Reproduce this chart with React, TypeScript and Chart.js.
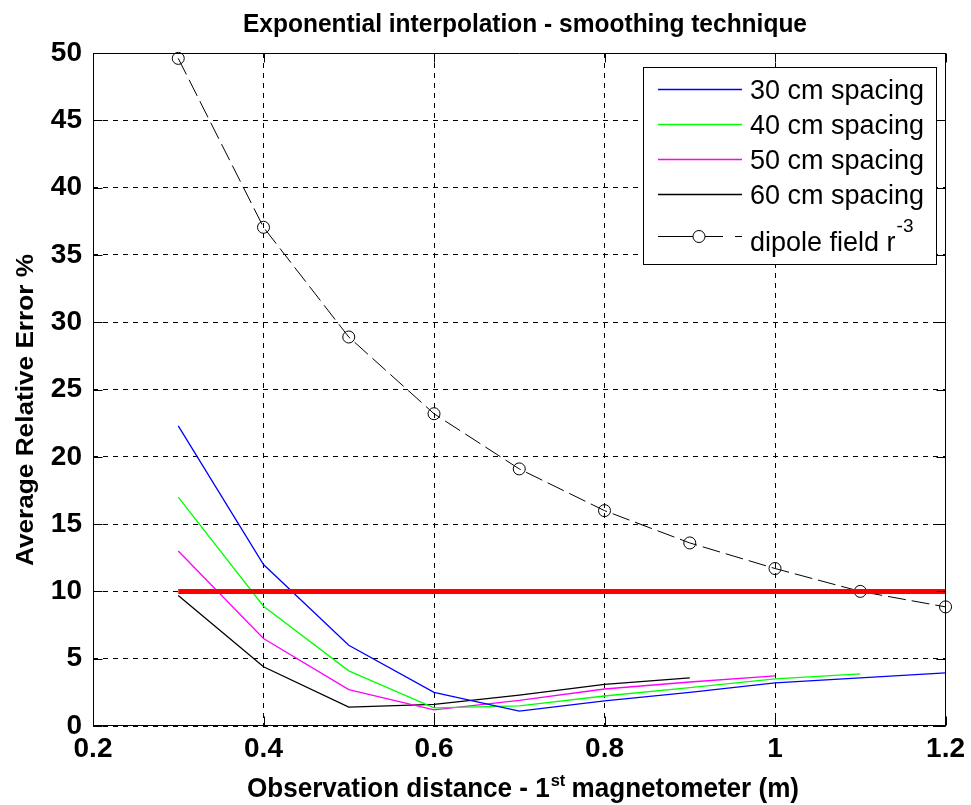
import React, { useEffect, useRef } from "react";
import { Chart, registerables } from "chart.js";

Chart.register(...registerables);

// ---- data ----
const xValues = [0.3, 0.4, 0.5, 0.6, 0.7, 0.8, 0.9, 1.0, 1.1, 1.2];
const spacing30 = [22.3, 12.0, 6.0, 2.5, 1.1, 1.86, 2.5, 3.2, 3.57, 3.94];
const spacing40 = [17.0, 8.9, 4.1, 1.35, 1.5, 2.23, 2.85, 3.5, 3.87];
const spacing50 = [13.0, 6.5, 2.7, 1.2, 1.9, 2.75, 3.27, 3.72];
const spacing60 = [9.7, 4.4, 1.4, 1.6, 2.3, 3.1, 3.57];
const dipole = [49.6, 37.05, 28.9, 23.2, 19.1, 16.0, 13.6, 11.7, 10.0, 8.85];
const thresholdX = [0.3, 1.2];
const thresholdY = [10, 10];

const legendLabels = ["30 cm spacing", "40 cm spacing", "50 cm spacing", "60 cm spacing"];
const legendColors = ["#0000ff", "#00ff00", "#ff00ff", "#000000"];
const dipoleLabel = "dipole field r";
const dipoleSup = "-3";

const titleText = "Exponential interpolation - smoothing technique";
const xTitleParts = ["Observation distance - 1", "st", " magnetometer (m)"];
const yTitleText = "Average Relative Error %";

const NARROW = '"Liberation Sans Narrow", "Liberation Sans", Arial, sans-serif';
const SANS = '"Liberation Sans", Arial, sans-serif';

const toPoints = (ys: number[]) => ys.map((y, i) => ({ x: xValues[i], y }));

function fitText(ctx: CanvasRenderingContext2D, text: string, cx: number, by: number, font: string, target: number) {
  ctx.font = font;
  const w = ctx.measureText(text).width;
  const s = target / w;
  ctx.save();
  ctx.translate(cx, by);
  ctx.scale(s, 1);
  ctx.textAlign = "center";
  ctx.fillText(text, 0, 0);
  ctx.restore();
}

const decorPlugin = {
  id: "decor",
  afterDraw(chart: any) {
    const { ctx, chartArea: a, scales } = chart;
    const L = Math.round(a.left) + 0.5;
    const R = Math.round(a.right) - 0.5;
    const T = Math.round(a.top) + 0.5;
    const B = Math.round(a.bottom) - 0.5;
    ctx.save();
    ctx.setLineDash([]);
    ctx.strokeStyle = "#000";
    ctx.lineWidth = 1;
    // box
    ctx.beginPath();
    ctx.moveTo(L, T);
    ctx.lineTo(R, T);
    ctx.lineTo(R, B);
    ctx.lineTo(L, B);
    ctx.closePath();
    ctx.stroke();
    // inside ticks
    const tl = 9;
    ctx.beginPath();
    scales.x.ticks.forEach((t: any) => {
      const px = Math.round(scales.x.getPixelForValue(t.value)) + 0.5;
      ctx.moveTo(px, B);
      ctx.lineTo(px, B - tl);
      ctx.moveTo(px, T);
      ctx.lineTo(px, T + tl);
    });
    scales.y.ticks.forEach((t: any) => {
      const py = Math.round(scales.y.getPixelForValue(t.value)) + 0.5;
      ctx.moveTo(L, py);
      ctx.lineTo(L + tl, py);
      ctx.moveTo(R, py);
      ctx.lineTo(R - tl, py);
    });
    ctx.stroke();

    ctx.fillStyle = "#000";
    ctx.textBaseline = "alphabetic";

    // title
    fitText(ctx, titleText, 525, 32, `bold 26px ${NARROW}`, 564);

    // x title with superscript
    const mainFont = `bold 27px ${NARROW}`;
    const supFont = `bold 17px ${NARROW}`;
    ctx.font = mainFont;
    const w0 = ctx.measureText(xTitleParts[0]).width;
    const w2 = ctx.measureText(xTitleParts[2]).width;
    ctx.font = supFont;
    const w1 = ctx.measureText(xTitleParts[1]).width;
    const total = w0 + w1 + w2;
    const sc = 552 / total;
    ctx.save();
    ctx.translate(523 - 276, 797);
    ctx.scale(sc, 1);
    ctx.textAlign = "left";
    ctx.font = mainFont;
    ctx.fillText(xTitleParts[0], 0, 0);
    ctx.font = supFont;
    ctx.fillText(xTitleParts[1], w0 + 1, -11);
    ctx.font = mainFont;
    ctx.fillText(xTitleParts[2], w0 + w1, 0);
    ctx.restore();

    // y title
    ctx.save();
    ctx.translate(33, 410);
    ctx.rotate(-Math.PI / 2);
    fitText(ctx, yTitleText, 0, 0, `bold 24px ${SANS}`, 312);
    ctx.restore();

    // legend
    const bx = 643.5, byy = 67.5, bw = 293, bh = 197;
    ctx.fillStyle = "#fff";
    ctx.fillRect(bx, byy, bw, bh);
    ctx.strokeStyle = "#000";
    ctx.lineWidth = 1;
    ctx.strokeRect(bx, byy, bw, bh);
    ctx.font = `27px ${SANS}`;
    ctx.textAlign = "left";
    legendLabels.forEach((lab, i) => {
      const ly = 89 + i * 35;
      ctx.strokeStyle = legendColors[i];
      ctx.lineWidth = 1.3;
      ctx.beginPath();
      ctx.moveTo(658, ly + 0.5);
      ctx.lineTo(742, ly + 0.5);
      ctx.stroke();
      ctx.fillStyle = "#000";
      ctx.fillText(lab, 750, ly + 10);
    });
    // dipole entry
    const dy = 236.5;
    ctx.strokeStyle = "#000";
    ctx.lineWidth = 1;
    ctx.beginPath();
    ctx.moveTo(658, dy);
    ctx.lineTo(693, dy);
    ctx.moveTo(705, dy);
    ctx.lineTo(723, dy);
    ctx.moveTo(735, dy);
    ctx.lineTo(742, dy);
    ctx.stroke();
    ctx.beginPath();
    ctx.arc(699, dy, 6, 0, Math.PI * 2);
    ctx.stroke();
    ctx.fillStyle = "#000";
    ctx.fillText(dipoleLabel, 750, 251);
    const dw = ctx.measureText(dipoleLabel).width;
    ctx.font = `19px ${SANS}`;
    ctx.fillText(dipoleSup, 750 + dw + 1, 232);
    ctx.restore();
  },
};

export default function App() {
  const ref = useRef<HTMLCanvasElement | null>(null);
  useEffect(() => {
    if (!ref.current) return;
    const tickFont = { family: NARROW, size: 28, weight: "bold" as const };
    const chart = new Chart(ref.current, {
      type: "line",
      data: {
        datasets: [
          {
            label: "threshold",
            data: thresholdX.map((x, i) => ({ x, y: thresholdY[i] })),
            borderColor: "#ff0000",
            borderWidth: 5,
            pointRadius: 0,
            borderCapStyle: "butt",
          },
          {
            label: "30 cm spacing",
            data: toPoints(spacing30),
            borderColor: "#0000ff",
            borderWidth: 1.3,
            pointRadius: 0,
          },
          {
            label: "40 cm spacing",
            data: toPoints(spacing40),
            borderColor: "#00ff00",
            borderWidth: 1.3,
            pointRadius: 0,
          },
          {
            label: "50 cm spacing",
            data: toPoints(spacing50),
            borderColor: "#ff00ff",
            borderWidth: 1.3,
            pointRadius: 0,
          },
          {
            label: "60 cm spacing",
            data: toPoints(spacing60),
            borderColor: "#000000",
            borderWidth: 1.3,
            pointRadius: 0,
          },
          {
            label: "dipole field r^-3",
            data: toPoints(dipole),
            borderColor: "#000000",
            borderWidth: 1,
            borderDash: [18, 6],
            pointRadius: 6,
            pointStyle: "circle",
            pointBorderColor: "#000",
            pointBackgroundColor: "rgba(0,0,0,0)",
            pointBorderWidth: 1,
            clip: false as any,
          },
        ],
      },
      options: {
        animation: false,
        responsive: true,
        maintainAspectRatio: false,
        layout: { padding: { top: 53, right: 23, left: 0, bottom: 0 } },
        elements: { line: { tension: 0 } },
        plugins: {
          legend: { display: false },
          tooltip: { enabled: false },
          title: { display: false },
        },
        scales: {
          x: {
            type: "linear",
            min: 0.2,
            max: 1.2,
            ticks: {
              stepSize: 0.2,
              color: "#000",
              font: tickFont,
              padding: 6,
              maxRotation: 0,
              callback: (v: any) => String(Number(Number(v).toFixed(1))),
            },
            grid: { color: "#000", lineWidth: 1, drawTicks: false },
            border: { display: false, dash: [5, 5] },
            afterFit: (s: any) => {
              s.height = 79;
            },
          },
          y: {
            type: "linear",
            min: 0,
            max: 50,
            ticks: {
              stepSize: 5,
              color: "#000",
              font: tickFont,
              padding: 11,
            },
            grid: { color: "#000", lineWidth: 1, drawTicks: false },
            border: { display: false, dash: [5, 5] },
            afterFit: (s: any) => {
              s.width = 93;
            },
          },
        },
      },
      plugins: [decorPlugin],
    });
    return () => chart.destroy();
  }, []);
  return (
    <div style={{ position: "absolute", left: 0, top: 0, width: 971, height: 805, background: "#fff" }}>
      <canvas ref={ref} />
    </div>
  );
}
